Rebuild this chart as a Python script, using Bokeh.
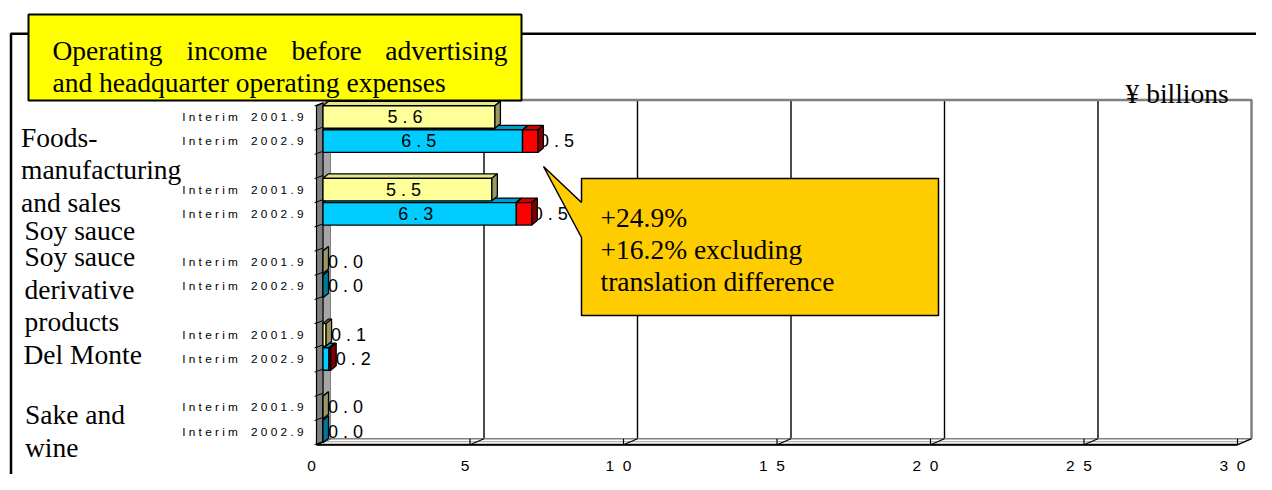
from bokeh.plotting import figure
from bokeh.models import Range1d
from bokeh.core.properties import value
from bokeh.embed import file_html
from bokeh.resources import INLINE

# ---------------- data ----------------
categories = ["Foods-\nmanufacturing\nand sales", "Soy sauce",
              "Soy sauce\nderivative\nproducts", "Del Monte", "Sake and\nwine"]
periods = ["Interim 2001.9", "Interim 2002.9"]
interim_2001 = [5.6, 5.5, 0.0, 0.1, 0.0]
interim_2002 = [6.5, 6.3, 0.0, 0.2, 0.0]
translation_diff = [0.5, 0.5, 0.0, 0.05, 0.0]
x_ticks = [0, 5, 10, 15, 20, 25, 30]
unit_text = "¥ billions"
title_lines = ["Operating income before advertising", "and headquarter operating expenses"]
callout_lines = ["+24.9%", "+16.2% excluding", "translation difference"]

# ---------------- layout ----------------
W, H, M = 1256, 474, 0
X0, SX = 322.5, 30.7      # px of value 0 on bar plane, px per unit
Y0, SY = 116.5, 24.2      # px of first bar slot, px per slot
BAR_H = 0.93
FRONT, MID, BACK = (-6.5, 1.0), (0.0, -2.0), (7.5, -5.0)
BAR_D = (5.5, -4.5)
SERIF = value("Liberation Serif")
SANS = value("Liberation Sans")


def xd(px):
    return (px - X0) / SX


def yd(py):
    return (py - Y0) / SY


def at(xv, s, off=(0.0, 0.0)):
    return xv + off[0] / SX, s + off[1] / SY


p = figure(width=W, height=H, x_range=Range1d(xd(M), xd(M + W)),
           y_range=Range1d(yd(M + H), yd(M)), output_backend="svg",
           toolbar_location=None, min_border=0, x_axis_location=None,
           y_axis_location=None, outline_line_color=None,
           background_fill_color="white", border_fill_color="white")
p.grid.visible = False

n = len(categories)
slot_2001 = [3 * g for g in range(n)]
slot_2002 = [3 * g + 1 for g in range(n)]
top_s, bot_s = -0.5, 3 * n - 1.5
x_max = x_ticks[-1]

# outer frame
p.line([xd(10.5), xd(10.5), xd(1290)], [yd(500), yd(33.3), yd(33.3)],
       line_color="black", line_width=2.5)

# back wall
bx0, bt = at(0, top_s, BACK)
bx1, bb = at(x_max, bot_s, BACK)
for t in x_ticks[1:-1]:
    gx, _ = at(t, 0, BACK)
    p.line([gx, gx], [bt, bb], line_color="black", line_width=1.4)
p.line([bx0, bx1, bx1], [bt, bt, bb], line_color="#808080", line_width=2.5)

# floor
f0 = at(0, bot_s, FRONT)
f1 = at(x_max, bot_s, FRONT)
b0 = at(0, bot_s, BACK)
b1 = at(x_max, bot_s, BACK)
m0 = at(0, bot_s, MID)
m1 = at(x_max, bot_s, MID)
p.patch([f0[0], f1[0], b1[0], b0[0]], [f0[1], f1[1], b1[1], b0[1]],
        fill_color="white", line_color="#808080", line_width=1.5)
p.line([m0[0], m1[0]], [m0[1], m1[1]], line_color="#A0A0A0", line_width=1)
for t in x_ticks:
    fx, fy = at(t, bot_s, FRONT)
    kx, ky = at(t, bot_s, BACK)
    p.line([fx, kx], [fy, ky], line_color="black", line_width=1.2)
    p.line([fx, fx], [fy, fy - 6 / SY], line_color="black", line_width=1.2)
p.line([f0[0], f1[0]], [f0[1], f1[1]], line_color="black", line_width=2)

# left wall
wf_t, wf_b = at(0, top_s, FRONT), at(0, bot_s, FRONT)
wm_t, wm_b = at(0, top_s, MID), at(0, bot_s, MID)
wb_t, wb_b = at(0, top_s, BACK), at(0, bot_s, BACK)
p.patch([wm_t[0], wm_b[0], wb_b[0], wb_t[0]], [wm_t[1], wm_b[1], wb_b[1], wb_t[1]],
        fill_color="#A6A6A6", line_color="#808080", line_width=1)
p.patch([wf_t[0], wf_b[0], wm_b[0], wm_t[0]], [wf_t[1], wf_b[1], wm_b[1], wm_t[1]],
        fill_color="#808080", line_color="black", line_width=1.2)
for k in range(3 * n):
    bnd = top_s + k
    a = at(0, bnd, FRONT)
    c = at(0, bnd, MID)
    p.line([a[0] - 2 / SX, c[0]], [a[1], c[1]], line_color="black", line_width=1)


def fmt(v):
    return " ".join(f"{v:.1f}")


def spaced(s):
    return " ".join(ch if ch != " " else "\u00a0\u00a0" for ch in s)


# outside value labels (drawn below bars)
out_x, out_y, out_t = [], [], []
for g in range(n):
    v, s = interim_2001[g], slot_2001[g]
    if v < 1:
        out_x.append(v + 5 / SX); out_y.append(s); out_t.append(fmt(v))
    v2, r, s2 = interim_2002[g], translation_diff[g], slot_2002[g]
    if v2 < 1:
        out_x.append(v2 + r + 5 / SX); out_y.append(s2); out_t.append(fmt(v2))
    if r >= 0.1:
        out_x.append(v2 + r + 1 / SX); out_y.append(s2); out_t.append(fmt(r))
p.text(out_x, out_y, out_t, text_font=SANS, text_font_size="18px",
       text_align="left", text_baseline="middle", text_color="black")


def draw_series(starts, ends, slots, colors):
    front, topc, sidec = colors
    ddx, ddy = BAR_D[0] / SX, BAR_D[1] / SY
    txs, tys, sxs, sys_ = [], [], [], []
    L, R, T, B = [], [], [], []
    for x0, x1, s in zip(starts, ends, slots):
        t, b = s - BAR_H / 2, s + BAR_H / 2
        txs.append([x0, x1, x1 + ddx, x0 + ddx]); tys.append([t, t, t + ddy, t + ddy])
        sxs.append([x1, x1 + ddx, x1 + ddx, x1]); sys_.append([t, t + ddy, b + ddy, b])
        L.append(x0); R.append(x1); T.append(t); B.append(b)
    p.patches(txs, tys, fill_color=topc, line_color="black", line_width=1.3)
    p.quad(left=L, right=R, top=T, bottom=B, fill_color=front,
           line_color="black", line_width=1.3)
    p.patches(sxs, sys_, fill_color=sidec, line_color="black", line_width=1.3)


CYAN = ("#00CCFF", "#0099CC", "#007A99")
RED = ("#FF0000", "#CC0000", "#800000")
YELLOW = ("#FFFF99", "#E6E68A", "#999966")

draw_series([0] * n, interim_2002, slot_2002, CYAN)
ri = [g for g in range(n) if translation_diff[g] > 0]
draw_series([interim_2002[g] for g in ri],
            [interim_2002[g] + translation_diff[g] for g in ri],
            [slot_2002[g] for g in ri], RED)
draw_series([0] * n, interim_2001, slot_2001, YELLOW)

# inside labels
in_x, in_y, in_t = [], [], []
for vals, slots in ((interim_2001, slot_2001), (interim_2002, slot_2002)):
    for v, s in zip(vals, slots):
        if v >= 1:
            in_x.append(v / 2 - 4 / SX); in_y.append(s); in_t.append(fmt(v))
p.text(in_x, in_y, in_t, text_font=SANS, text_font_size="18px",
       text_align="center", text_baseline="middle", text_color="black")

# period labels
lab_x = xd(303)
p.text([lab_x] * n, slot_2001, [spaced(periods[0])] * n, text_font=SANS,
       text_font_size="11.8px", text_align="right", text_baseline="middle",
       text_color="black")
p.text([lab_x] * n, slot_2002, [spaced(periods[1])] * n, text_font=SANS,
       text_font_size="11.8px", text_align="right", text_baseline="middle",
       text_color="black")

# category labels
cat_x = [20.5, 24, 24, 23, 24.5]
cat_base = [136.7, 230, 256, 354, 414]
LINE = 32.7
cx, cy, ct = [], [], []
for g, name in enumerate(categories):
    for i, line in enumerate(name.split("\n")):
        cx.append(xd(cat_x[g])); cy.append(yd(cat_base[g] + i * LINE)); ct.append(line)
p.text(cx, cy, ct, text_font=SERIF, text_font_size="27.5px", text_align="left",
       text_baseline="alphabetic", text_color="black")

# x tick labels
tx = [at(t, 0, FRONT)[0] - 5 / SX for t in x_ticks]
p.text(tx, [yd(465)] * len(x_ticks), [" \u00a0".join(str(t)) for t in x_ticks],
       text_font=SANS, text_font_size="15.5px", text_align="center",
       text_baseline="alphabetic", text_color="black")

# unit label
p.text([xd(1125)], [yd(93)], [unit_text], text_font=SERIF, text_font_size="27.5px",
       text_align="left", text_baseline="alphabetic", text_color="black")

# title box
p.quad(left=[xd(28)], right=[xd(521)], top=[yd(14)], bottom=[yd(100)],
       fill_color="#FFFF00", line_color="black", line_width=2)
words = title_lines[0].split(" ")
wx = [52, 186, 291]
p.text([xd(v) for v in wx], [yd(50)] * 3, words[:3], text_font=SERIF,
       text_font_size="27.5px", text_align="left", text_baseline="alphabetic",
       text_color="black")
p.text([xd(507)], [yd(50)], [words[3]], text_font=SERIF, text_font_size="27.5px",
       text_align="right", text_baseline="alphabetic", text_color="black")
p.text([xd(52)], [yd(82)], [title_lines[1]], text_font=SERIF,
       text_font_size="27.5px", text_align="left", text_baseline="alphabetic",
       text_color="black")

# callout
cpx = [581, 938, 938, 581, 581, 543, 581]
cpy = [178, 178, 315, 315, 237, 166, 202]
p.patch([xd(v) for v in cpx], [yd(v) for v in cpy], fill_color="#FFCC00",
        line_color="black", line_width=1.5)
p.text([xd(600)] * 3, [yd(216.7), yd(248.5), yd(281)], callout_lines,
       text_font=SERIF, text_font_size="27.5px", text_align="left",
       text_baseline="alphabetic", text_color="black")

open("out.html", "w").write(file_html(p, INLINE))
